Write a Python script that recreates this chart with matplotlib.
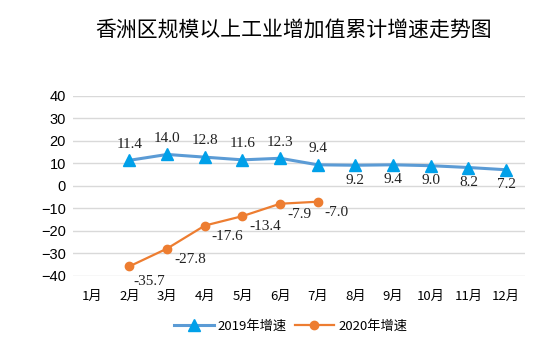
import matplotlib

matplotlib.use("Agg")
import matplotlib.pyplot as plt  # noqa: E402

plt.rcParams["font.family"] = ["Noto Sans CJK SC", "DejaVu Sans"]

MONTHS = ["1月", "2月", "3月", "4月", "5月", "6月", "7月", "8月", "9月", "10月", "11月", "12月"]
Y2019 = [None, 11.4, 14.0, 12.8, 11.6, 12.3, 9.4, 9.2, 9.4, 9.0, 8.2, 7.2]
Y2020 = [None, -35.7, -27.8, -17.6, -13.4, -7.9, -7.0]
YTICKS = [-40, -30, -20, -10, 0, 10, 20, 30, 40]

BLUE_LINE = "#5B9BD5"
BLUE_MARK = "#00A0E9"
ORANGE = "#ED7D31"

fig = plt.figure(figsize=(5.59, 3.62), dpi=100)
ax = fig.add_axes([0.1306, 0.2376, 0.8084, 0.4974])

x19 = [i for i, v in enumerate(Y2019) if v is not None]
v19 = [v for v in Y2019 if v is not None]
x20 = [i for i, v in enumerate(Y2020) if v is not None]
v20 = [v for v in Y2020 if v is not None]

ax.plot(x19, v19, color=BLUE_LINE, lw=2.2, marker="^", ms=8,
        mfc=BLUE_MARK, mec=BLUE_MARK, label="2019年增速", zorder=3)
ax.plot(x20, v20, color=ORANGE, lw=1.6, marker="o", ms=6,
        mfc=ORANGE, mec=ORANGE, label="2020年增速", zorder=3)

lab = dict(fontsize=11, family="Liberation Serif", color="#222222")
for x, v in zip(x19, v19):
    if x <= 6:
        ax.annotate(f"{v:.1f}", (x, v), xytext=(0, 7), textcoords="offset points",
                    ha="center", va="bottom", **lab)
    else:
        ax.annotate(f"{v:.1f}", (x, v), xytext=(0, -6), textcoords="offset points",
                    ha="center", va="top", **lab)
for x, v in zip(x20, v20):
    if x == 1:
        ax.annotate(f"{v:.1f}", (x, v), xytext=(3, -6), textcoords="offset points",
                    ha="left", va="top", **lab)
    else:
        ax.annotate(f"{v:.1f}", (x, v), xytext=(5, -3), textcoords="offset points",
                    ha="left", va="top", **lab)

ax.set_xlim(-0.5, 11.5)
ax.set_ylim(-40, 40)
ax.set_yticks(YTICKS)
ax.set_xticks(range(len(MONTHS)))
ax.set_xticklabels(MONTHS, fontsize=9.5)
ax.tick_params(axis="y", labelsize=10.5, length=0, pad=5)
ax.tick_params(axis="x", length=0, pad=10)
for lbl in ax.get_yticklabels():
    lbl.set_family("Liberation Sans")
ax.grid(axis="y", color="#D9D9D9", lw=1)
ax.set_axisbelow(True)
for s in ax.spines.values():
    s.set_visible(False)

fig.suptitle("香洲区规模以上工业增加值累计增速走势图", x=0.525, y=0.95, fontsize=15)
fig.legend(loc="center", bbox_to_anchor=(0.52, 0.1), ncol=2, frameon=False,
           fontsize=9.5, handlelength=3, columnspacing=0.6, handletextpad=0.3)

fig.savefig("out.png", dpi=100)
